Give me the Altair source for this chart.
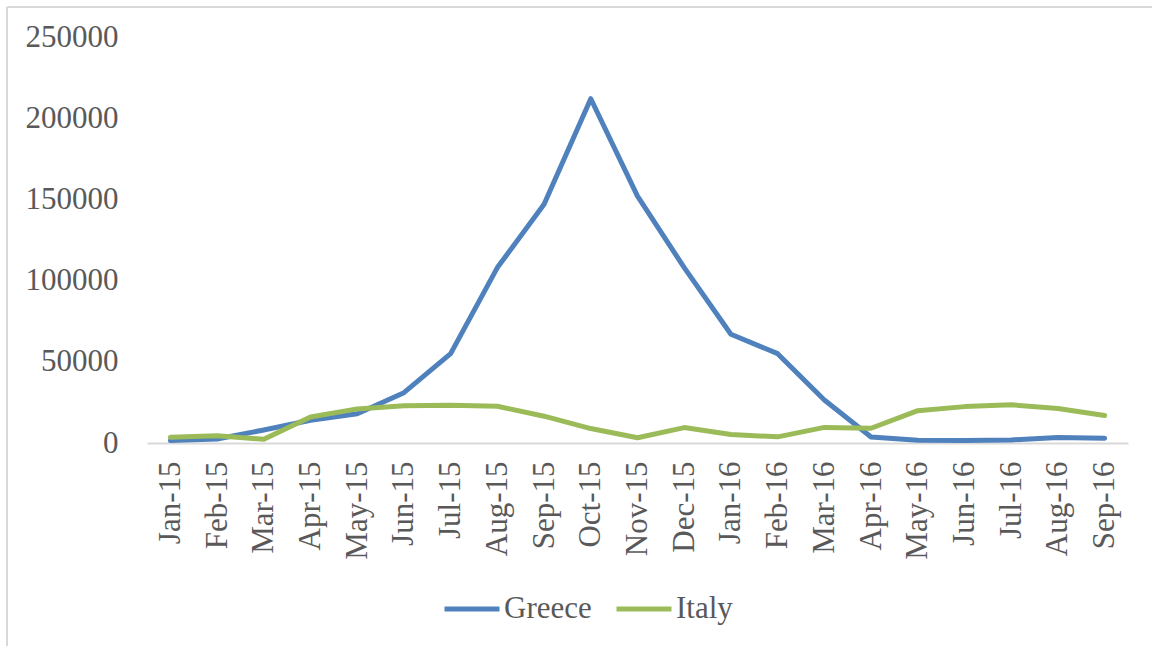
import altair as alt
import pandas as pd

months = ["Jan-15", "Feb-15", "Mar-15", "Apr-15", "May-15", "Jun-15", "Jul-15",
          "Aug-15", "Sep-15", "Oct-15", "Nov-15", "Dec-15", "Jan-16", "Feb-16",
          "Mar-16", "Apr-16", "May-16", "Jun-16", "Jul-16", "Aug-16", "Sep-16"]
greece = [1500, 2500, 8000, 14000, 18000, 31000, 55000, 108000, 147000, 212000,
          152000, 108000, 67000, 55000, 26500, 3650, 1700, 1500, 1900, 3400, 3000]
italy = [3500, 4400, 2300, 16000, 21000, 22900, 23200, 22600, 16500, 8900,
         3200, 9500, 5200, 3800, 9600, 9100, 19900, 22400, 23500, 21300, 16900]
series = ["Greece", "Italy"]
colors = ["#4F81BD", "#9BBB59"]

rows = []
for m, g, i in zip(months, greece, italy):
    rows.append({"month": m, "series": "Greece", "value": g})
    rows.append({"month": m, "series": "Italy", "value": i})
df = pd.DataFrame(rows)

FONT = "Liberation Serif"
TXT = "#595959"

lines = alt.Chart(df).mark_line(strokeWidth=5, strokeCap="round", strokeJoin="round").encode(
    x=alt.X("month:N", sort=months, title=None,
            scale=alt.Scale(paddingInner=0, paddingOuter=0.5),
            axis=alt.Axis(labelAngle=270, labelAlign="right", labelBaseline="middle",
                          labelPadding=18, ticks=False, domainColor="#d9d9d9",
                          domainWidth=2, labelFont=FONT, labelFontSize=31,
                          labelColor=TXT, grid=False)),
    y=alt.Y("value:Q", title=None,
            scale=alt.Scale(domain=[0, 250000], nice=False),
            axis=alt.Axis(values=[0, 50000, 100000, 150000, 200000, 250000],
                          format="d", domain=False, ticks=False, grid=False,
                          labelPadding=29, labelFont=FONT, labelFontSize=31,
                          labelColor=TXT)),
    color=alt.Color("series:N", scale=alt.Scale(domain=series, range=colors),
                    legend=alt.Legend(title=None, orient="none", direction="horizontal",
                                      legendX=295, legendY=542,
                                      symbolType="stroke", symbolSize=3025,
                                      symbolStrokeWidth=5, labelFont=FONT,
                                      labelFontSize=31, labelColor=TXT,
                                      labelOffset=2, columnPadding=14,
                                      labelLimit=300)),
)

border_left = alt.Chart(df).mark_rule(color="#d9d9d9", strokeWidth=2).encode(
    x=alt.value(-140), y=alt.value(-30), y2=alt.value(620))
border_top = alt.Chart(df).mark_rule(color="#d9d9d9", strokeWidth=2).encode(
    x=alt.value(-140), x2=alt.value(1010), y=alt.value(-30))

chart = alt.layer(border_left, border_top, lines).properties(
    width=981, height=406,
    background="white",
    autosize=alt.AutoSizeParams(type="none"),
    padding={"left": 147, "top": 37, "right": 24, "bottom": 203},
).configure_view(stroke="transparent", strokeWidth=0)

chart.save("out.html", embed_options={"renderer": "svg", "actions": False})
